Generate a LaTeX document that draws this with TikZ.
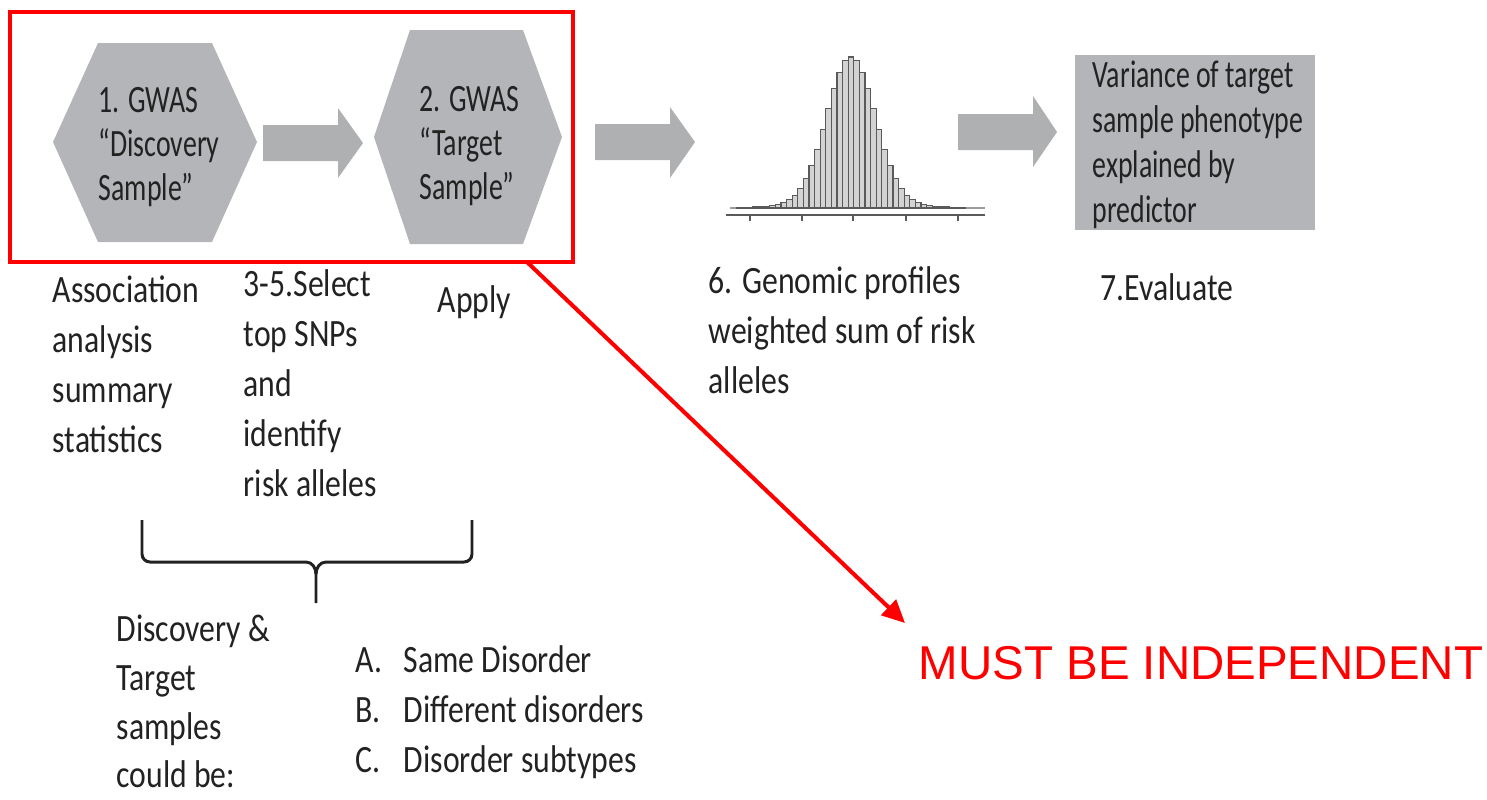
\documentclass[tikz,border=0pt]{standalone}
\usepackage{fontspec}
\setmainfont{Carlito}[FakeStretch=0.82]
\newfontfamily\narrowfont{Carlito}[FakeStretch=0.72]
\newfontfamily\warnfont{Liberation Sans}
\usepackage{xcolor}
\usetikzlibrary{arrows.meta,positioning,calc}
\definecolor{hexgrey}{HTML}{B4B5B8}
\definecolor{inkgrey}{HTML}{222222}
\definecolor{bargrey}{HTML}{D3D3D3}
\definecolor{baredge}{HTML}{5A5A5A}

\begin{document}
\begin{tikzpicture}[x=0.01cm, y=-0.01cm,
  lbl/.style={anchor=north west, inner sep=0pt, align=left, text=inkgrey,
    font=\fontsize{11pt}{14.2pt}\selectfont, execute at begin node=\strut},
  hexlbl/.style={lbl, font=\narrowfont\fontsize{11pt}{12.4pt}\selectfont},
  boxlbl/.style={lbl, font=\narrowfont\fontsize{11pt}{12.8pt}\selectfont},
  hexfill/.style={fill=hexgrey},
  blockarr/.style={fill=hexgrey!97!black},
  bar/.style={fill=bargrey, draw=baredge, line width=0.3pt},
  redframe/.style={draw=red, line width=1.15pt},
  redarr/.style={draw=red, line width=1.15pt, -{Triangle[length=6.5pt, width=6pt]}},
  brace/.style={draw=inkgrey, line width=0.85pt},
  warn/.style={anchor=base west, inner sep=0pt, text=red, font=\warnfont\fontsize{13.5pt}{16pt}\selectfont}
]
\useasboundingbox (0,0) rectangle (1487,799);

% GWAS samples
\fill[hexfill] (53,142) -- (98,43) -- (212,43) -- (257,142) -- (212,242) -- (98,242) -- cycle;
\node[hexlbl] (gwasA) at (98,87) {1. GWAS\\“Discovery\\Sample”};
\fill[hexfill] (374,137) -- (410,30) -- (523,30) -- (562,137) -- (523,244) -- (410,244) -- cycle;
\node[hexlbl] (gwasB) at (419,86) {2. GWAS\\“Target\\Sample”};

% block arrows
\fill[blockarr] (263,125) -- (338,125) -- (338,108) -- (363,143) -- (338,178) -- (338,161) -- (263,161) -- cycle;
\fill[blockarr] (595,124) -- (670,124) -- (670,107) -- (695,142) -- (670,178) -- (670,160) -- (595,160) -- cycle;
\fill[blockarr] (958,114) -- (1033,114) -- (1033,96) -- (1057,132) -- (1033,167) -- (1033,150) -- (958,150) -- cycle;

% histogram of profiles
\draw[baredge!60, line width=0.4pt] (730,208) -- (985,208);
\foreach \i in {-20,...,20} {
  \pgfmathsetmacro{\h}{146*exp(-(5.6*\i)*(5.6*\i)/1152)+5*exp(-(5.6*\i)*(5.6*\i)/6050)}
  \filldraw[bar] ({851+5.6*\i-2.8},208) rectangle ({851+5.6*\i+2.8},{208-\h});
}
\draw[baredge, line width=0.5pt] (726,215) -- (985,215);
\foreach \t in {750,802,853,906,958} \draw[baredge, line width=0.5pt] (\t,215) -- (\t,221);

% evaluation box
\fill[hexfill] (1075,55) rectangle (1315,230);
\node[boxlbl] (variance) at (1092,60) {Variance of target\\sample phenotype\\explained by\\predictor};

% step labels
\node[lbl] (assoc) at (52,275) {Association\\analysis\\summary\\statistics};
\node[lbl] (select) at (243,269) {3-5.Select\\top SNPs\\and\\identify\\risk alleles};
\node[lbl] (apply) at (437,277) {Apply};
\node[lbl] (profiles) at (708,266) {6. Genomic profiles\\weighted sum of risk\\alleles};
\node[lbl] (evaluate) at (1100,265) {7.Evaluate};

% brace and sample types
\draw[brace] (142,520) -- (142,554) to[out=-90, in=180] (150,562) -- (306,562)
  to[out=0, in=90] (316,574) -- (316,603);
\draw[brace] (316,574) to[out=90, in=180] (326,562) -- (464,562)
  to[out=0, in=-90] (472,554) -- (472,520);
\node[lbl, font=\fontsize{11pt}{13.9pt}\selectfont] (couldbe) at (116,614) {Discovery \&\\Target\\samples\\could be:};
\node[lbl] (types) at (355,645) {\makebox[13.7pt][l]{A.}Same Disorder\\\makebox[13.7pt][l]{B.}Different disorders\\\makebox[13.7pt][l]{C.}Disorder subtypes};

% independence
\draw[redframe] (10,12) rectangle (573,262);
\coordinate (framecut) at (527,262);
\coordinate (warntip) at (905,623);
\draw[redarr] (framecut) -- (warntip);
\node[warn] (indep) at (918,679) {MUST BE INDEPENDENT};

\end{tikzpicture}
\end{document}
